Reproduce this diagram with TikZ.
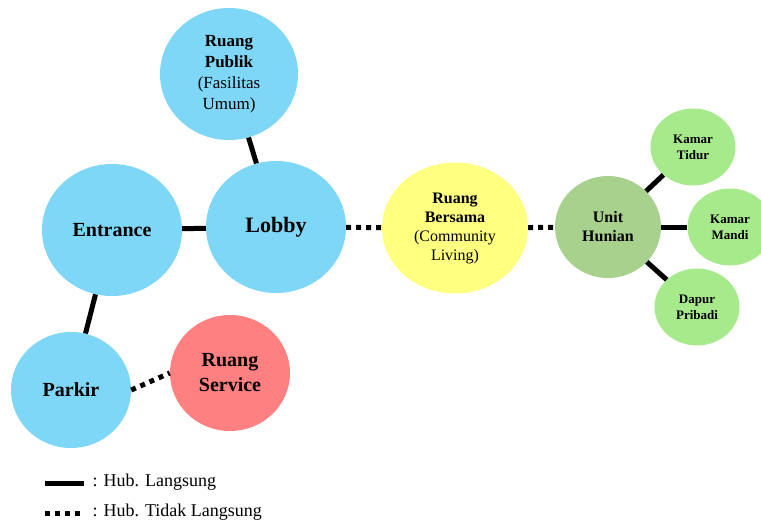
\documentclass[tikz,border=0pt]{standalone}
\usepackage{fontspec}
\setmainfont{Liberation Serif}
\usetikzlibrary{shapes.geometric}
\definecolor{ruangbiru}{RGB}{126,215,247}
\definecolor{ruangkuning}{RGB}{255,255,128}
\definecolor{ruangmerah}{RGB}{255,128,128}
\definecolor{unithijau}{RGB}{169,209,142}
\definecolor{ruanghijau}{RGB}{166,234,140}
\tikzset{
  ruang/.style={ellipse,inner sep=0pt,align=center,font=\bfseries},
  langsung/.style={line width=5pt},
  tidaklangsung/.style={line width=5pt,dash pattern=on 5pt off 5pt}
}
\begin{document}
\begin{tikzpicture}[x=1pt,y=-1pt]
\useasboundingbox (0,0) rectangle (761,525);
\node[ruang,fill=ruangbiru,minimum width=138pt,minimum height=132pt,font=\fontsize{17}{21}\selectfont]
  (publik) at (229,74) {\textbf{Ruang}\\\textbf{Publik}\\(Fasilitas\\Umum)};
\node[ruang,fill=ruangbiru,minimum width=140pt,minimum height=132pt,font=\bfseries\fontsize{20}{24}\selectfont]
  (entrance) at (112,230) {Entrance};
\node[ruang,fill=ruangbiru,minimum width=140pt,minimum height=132pt,font=\bfseries\fontsize{22}{26}\selectfont]
  (lobby) at (276,227) {Lobby};
\node[ruang,fill=ruangbiru,minimum width=120pt,minimum height=116pt,font=\bfseries\fontsize{20}{24}\selectfont]
  (parkir) at (71,390) {Parkir};
\node[ruang,fill=ruangmerah,minimum width=120pt,minimum height=116pt,font=\bfseries\fontsize{20}{25}\selectfont]
  (service) at (230,373) {Ruang\\Service};
\node[ruang,fill=ruangkuning,minimum width=146pt,minimum height=131pt,font=\fontsize{16}{19}\selectfont]
  (bersama) at (455,228) {\textbf{Ruang}\\\textbf{Bersama}\\(Community\\Living)};
\node[ruang,fill=unithijau,minimum width=106pt,minimum height=102pt,font=\bfseries\fontsize{16}{19}\selectfont]
  (unit) at (608,227) {Unit\\Hunian};
\foreach \n/\p/\lab in {tidur/{693,147}/{Kamar\\Tidur},mandi/{730,227}/{Kamar\\Mandi},dapur/{697,307}/{Dapur\\Pribadi}}{
  \node[ruang,fill=ruanghijau,minimum width=85pt,minimum height=77pt,font=\bfseries\fontsize{13}{16}\selectfont]
    (\n) at (\p) {\lab};
}
% hubungan
\draw[langsung] (publik) -- (lobby);
\draw[langsung] (entrance) -- (lobby);
\draw[langsung] (entrance) -- (parkir);
\draw[tidaklangsung] (parkir.east) -- (service.west);
\draw[tidaklangsung] (lobby) -- (bersama);
\draw[tidaklangsung] (bersama) -- (unit);
\foreach \n in {tidur,mandi,dapur}{
  \draw[langsung] (unit) -- (\n);
}
% keterangan
\coordinate (ka) at (45,483);
\coordinate (kb) at (84,483);
\coordinate (kc) at (45,513);
\coordinate (kd) at (84,513);
\draw[langsung] (ka) -- (kb);
\draw[tidaklangsung] (kc) -- (kd);
\node[anchor=west,font=\fontsize{18}{21}\selectfont] (klangsung) at (89,482) {: Hub. Langsung};
\node[anchor=west,font=\fontsize{18}{21}\selectfont] (ktidak) at (89,512) {: Hub. Tidak Langsung};
\end{tikzpicture}
\end{document}
